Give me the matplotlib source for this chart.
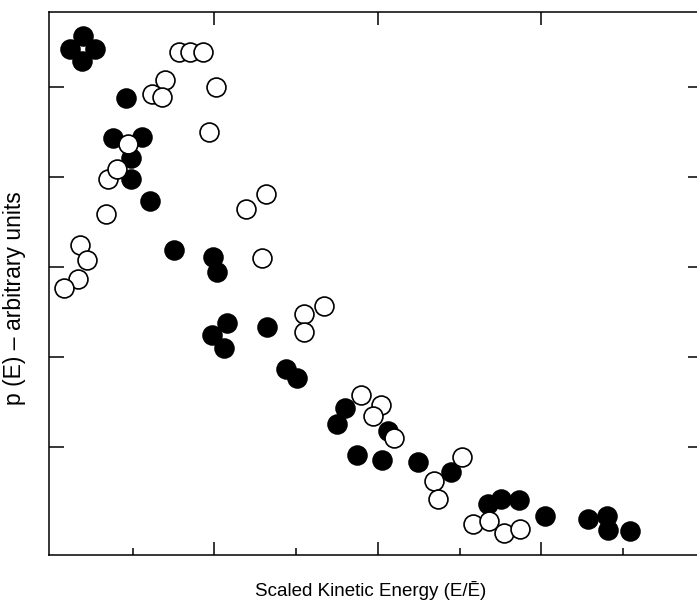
import matplotlib.pyplot as plt
from matplotlib.ticker import FixedLocator, NullFormatter

plt.rcParams['font.family'] = ['Liberation Sans', 'DejaVu Sans']

# filled circles
filled_x = [0.39, 0.23, 0.54, 0.38, 0.92, 0.76, 1.11, 0.98, 0.98, 1.21,
            1.51, 1.98, 2.03, 2.15, 1.97, 2.12, 2.64, 2.88, 3.01, 3.60,
            3.50, 4.12, 3.75, 4.05, 4.49, 4.90, 5.35, 5.51, 5.73, 6.05,
            6.57, 6.81, 6.82, 7.09]
filled_y = [5.56, 5.42, 5.42, 5.29, 4.88, 4.43, 4.44, 4.21, 3.98, 3.73,
            3.19, 3.11, 2.94, 2.38, 2.24, 2.10, 2.33, 1.87, 1.77, 1.43,
            1.26, 1.18, 0.91, 0.86, 0.83, 0.72, 0.37, 0.42, 0.41, 0.23,
            0.20, 0.23, 0.08, 0.07]

# open circles
open_x = [1.57, 1.70, 1.86, 1.40, 1.24, 1.36, 2.02, 1.93, 0.70, 0.81,
          0.94, 0.67, 2.39, 2.63, 0.35, 0.44, 0.33, 0.16, 2.58, 3.10,
          3.10, 3.34, 3.79, 4.04, 3.94, 4.20, 5.03, 4.69, 4.74, 5.17,
          5.36, 5.54, 5.74]
open_y = [5.39, 5.39, 5.39, 5.07, 4.92, 4.89, 5.00, 4.50, 3.97, 4.09,
          4.36, 3.59, 3.64, 3.81, 3.24, 3.08, 2.86, 2.77, 3.10, 2.48,
          2.28, 2.56, 1.58, 1.47, 1.34, 1.10, 0.89, 0.62, 0.42, 0.14,
          0.18, 0.04, 0.09]

W, H = 697, 603
fig = plt.figure(figsize=(W / 100, H / 100), dpi=100)
ax = fig.add_axes([49 / W, 1 - 555 / H, (703 - 49) / W, (555 - 12) / H])

ax.scatter(filled_x, filled_y, s=185, c='black', edgecolors='black', linewidths=1.2, zorder=2)
ax.scatter(open_x, open_y, s=185, c='white', edgecolors='black', linewidths=1.2, zorder=3)

ax.set_xlim(-0.025, 7.98)
ax.set_ylim(-0.2, 5.83)

for sp in ax.spines.values():
    sp.set_linewidth(1.1)

ax.xaxis.set_major_locator(FixedLocator([2, 4, 6]))
ax.xaxis.set_minor_locator(FixedLocator([1, 3, 5, 7]))
ax.set_yticks([1, 2, 3, 4, 5])
ax.xaxis.set_major_formatter(NullFormatter())
ax.yaxis.set_major_formatter(NullFormatter())

ax.tick_params(axis='x', which='major', direction='in', length=9.5, width=1.1,
               top=True, bottom=True)
ax.tick_params(axis='x', which='minor', direction='in', length=5, width=1.1,
               top=False, bottom=True)
ax.tick_params(axis='y', which='major', direction='in', length=11, width=1.1,
               left=True, right=True)

fig.text(371 / W, 1 - 590 / H, 'Scaled Kinetic Energy (E/Ē)', ha='center', va='center', fontsize=13.5)
fig.text(15 / W, 1 - 298 / H, 'p (E) – arbitrary units', ha='center', va='center',
         rotation=90, fontsize=16.5)

fig.savefig('out.png', dpi=100)
